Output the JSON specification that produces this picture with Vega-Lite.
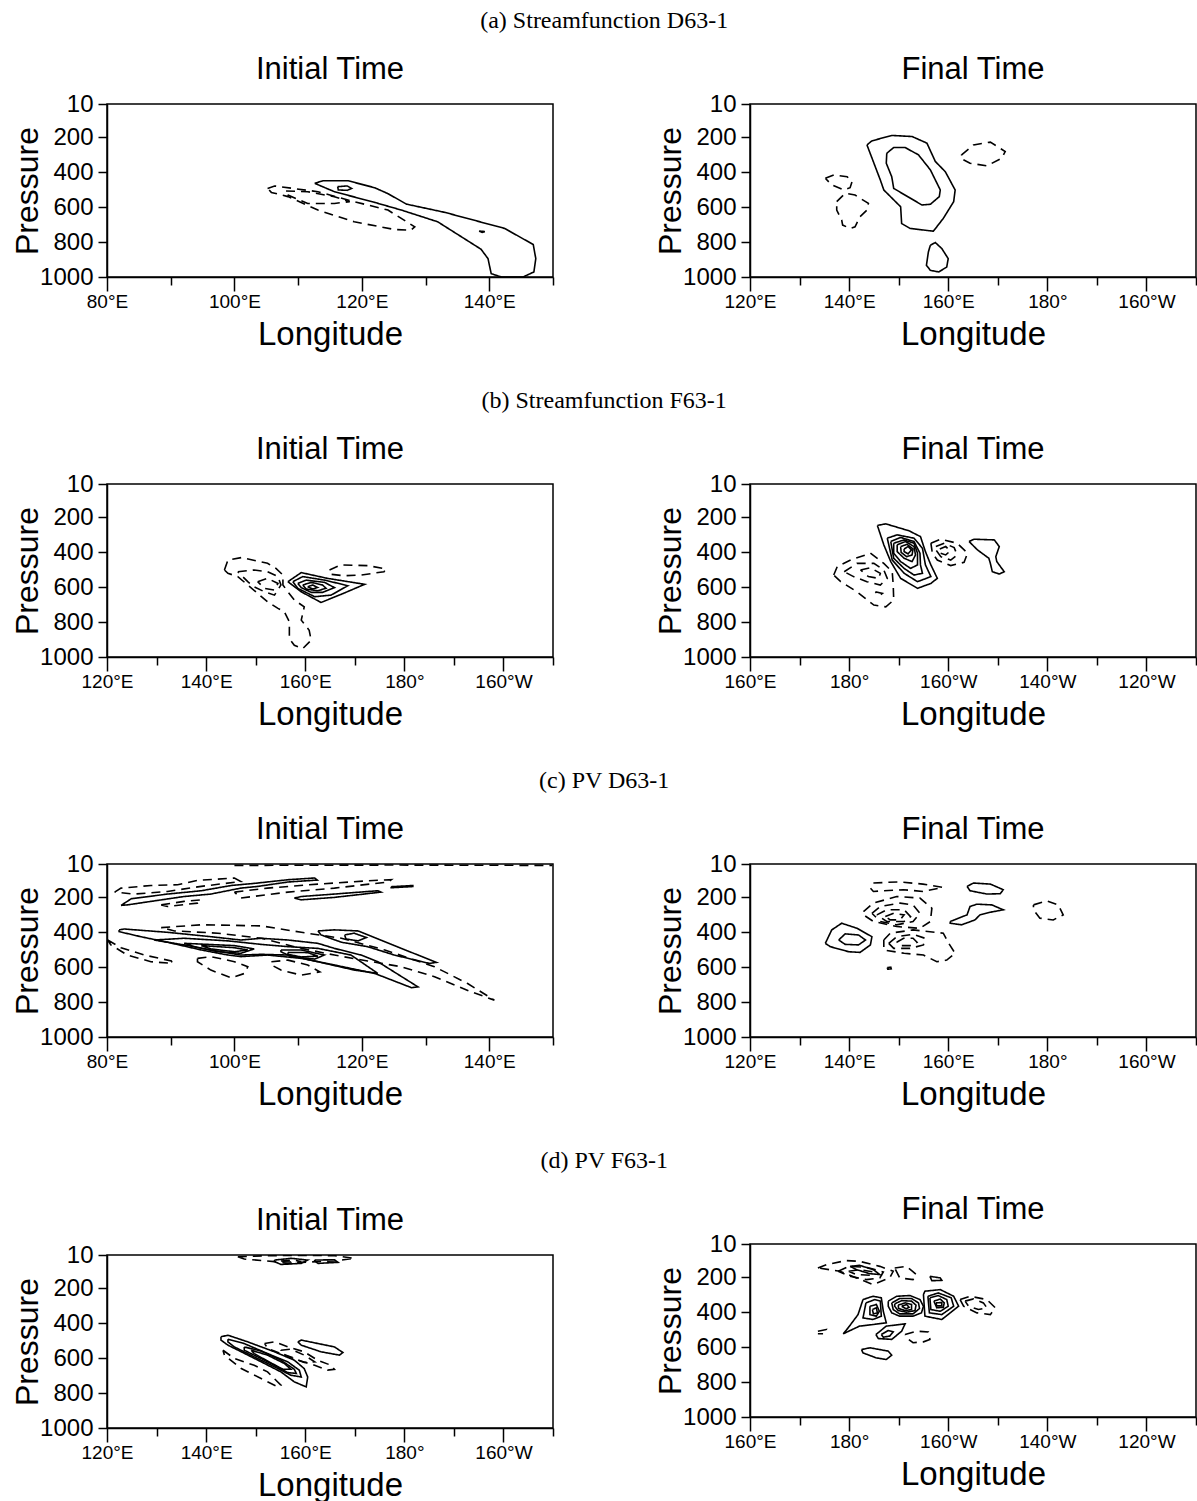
{
"$schema": "https://vega.github.io/schema/vega-lite/v6.json",
"background": "white",
"padding": {"left": 10, "top": 9, "right": 2, "bottom": 0},
"spacing": 37,
"datasets": {
"a1": [
{"id":1,"sign":"pos","lon":112.6,"p":464},{"id":1,"sign":"pos","lon":113.9,"p":449},{"id":1,"sign":"pos","lon":117.8,"p":449},{"id":1,"sign":"pos","lon":122.0,"p":489},{"id":1,"sign":"pos","lon":124.1,"p":523},{"id":1,"sign":"pos","lon":127.0,"p":583},{"id":1,"sign":"pos","lon":133.0,"p":630},{"id":1,"sign":"pos","lon":142.4,"p":722},{"id":1,"sign":"pos","lon":146.9,"p":814},{"id":1,"sign":"pos","lon":147.3,"p":895},{"id":1,"sign":"pos","lon":147.0,"p":971},{"id":1,"sign":"pos","lon":145.3,"p":1000},{"id":1,"sign":"pos","lon":141.9,"p":1000},{"id":1,"sign":"pos","lon":140.3,"p":981},{"id":1,"sign":"pos","lon":139.8,"p":895},{"id":1,"sign":"pos","lon":138.7,"p":841},{"id":1,"sign":"pos","lon":131.9,"p":684},{"id":1,"sign":"pos","lon":126.2,"p":617},{"id":1,"sign":"pos","lon":122.0,"p":573},{"id":1,"sign":"pos","lon":115.7,"p":512},{"id":1,"sign":"pos","lon":112.6,"p":464},
{"id":2,"sign":"pos","lon":116.2,"p":483},{"id":2,"sign":"pos","lon":117.7,"p":479},{"id":2,"sign":"pos","lon":118.4,"p":493},{"id":2,"sign":"pos","lon":117.7,"p":504},{"id":2,"sign":"pos","lon":116.3,"p":502},{"id":2,"sign":"pos","lon":116.2,"p":483},
{"id":3,"sign":"pos","lon":138.4,"p":737},{"id":3,"sign":"pos","lon":139.3,"p":740},{"id":3,"sign":"pos","lon":138.9,"p":745},{"id":3,"sign":"pos","lon":138.4,"p":737},
{"id":4,"sign":"neg","lon":105.2,"p":493},{"id":4,"sign":"neg","lon":106.3,"p":479},{"id":4,"sign":"neg","lon":113.1,"p":512},{"id":4,"sign":"neg","lon":118.8,"p":569},{"id":4,"sign":"neg","lon":124.1,"p":617},{"id":4,"sign":"neg","lon":128.3,"p":713},{"id":4,"sign":"neg","lon":127.7,"p":732},{"id":4,"sign":"neg","lon":125.1,"p":728},{"id":4,"sign":"neg","lon":118.8,"p":684},{"id":4,"sign":"neg","lon":113.1,"p":617},{"id":4,"sign":"neg","lon":108.4,"p":540},{"id":4,"sign":"neg","lon":105.8,"p":516},{"id":4,"sign":"neg","lon":105.2,"p":493},
{"id":5,"sign":"neg","lon":108.1,"p":508},{"id":5,"sign":"neg","lon":111.5,"p":512},{"id":5,"sign":"neg","lon":115.7,"p":541},{"id":5,"sign":"neg","lon":118.1,"p":569},{"id":5,"sign":"neg","lon":115.7,"p":579},{"id":5,"sign":"neg","lon":111.5,"p":579},{"id":5,"sign":"neg","lon":108.4,"p":531},{"id":5,"sign":"neg","lon":108.1,"p":508}
],
"a2": [
{"id":1,"sign":"pos","lon":143.6,"p":244},{"id":1,"sign":"pos","lon":144.6,"p":221},{"id":1,"sign":"pos","lon":148.6,"p":190},{"id":1,"sign":"pos","lon":152.7,"p":196},{"id":1,"sign":"pos","lon":155.7,"p":234},{"id":1,"sign":"pos","lon":157.4,"p":339},{"id":1,"sign":"pos","lon":159.4,"p":397},{"id":1,"sign":"pos","lon":161.4,"p":502},{"id":1,"sign":"pos","lon":161.1,"p":569},{"id":1,"sign":"pos","lon":159.0,"p":665},{"id":1,"sign":"pos","lon":157.0,"p":738},{"id":1,"sign":"pos","lon":152.3,"p":722},{"id":1,"sign":"pos","lon":150.6,"p":694},{"id":1,"sign":"pos","lon":150.4,"p":598},{"id":1,"sign":"pos","lon":147.0,"p":502},{"id":1,"sign":"pos","lon":146.3,"p":445},{"id":1,"sign":"pos","lon":143.6,"p":244},
{"id":2,"sign":"pos","lon":147.6,"p":292},{"id":2,"sign":"pos","lon":149.0,"p":259},{"id":2,"sign":"pos","lon":151.3,"p":259},{"id":2,"sign":"pos","lon":154.0,"p":301},{"id":2,"sign":"pos","lon":156.4,"p":387},{"id":2,"sign":"pos","lon":158.4,"p":502},{"id":2,"sign":"pos","lon":158.2,"p":540},{"id":2,"sign":"pos","lon":156.4,"p":584},{"id":2,"sign":"pos","lon":154.7,"p":588},{"id":2,"sign":"pos","lon":149.0,"p":493},{"id":2,"sign":"pos","lon":148.6,"p":426},{"id":2,"sign":"pos","lon":147.5,"p":349},{"id":2,"sign":"pos","lon":147.6,"p":292},
{"id":3,"sign":"pos","lon":156.4,"p":818},{"id":3,"sign":"pos","lon":157.4,"p":803},{"id":3,"sign":"pos","lon":158.7,"p":837},{"id":3,"sign":"pos","lon":160.0,"p":895},{"id":3,"sign":"pos","lon":159.7,"p":943},{"id":3,"sign":"pos","lon":158.1,"p":971},{"id":3,"sign":"pos","lon":156.4,"p":962},{"id":3,"sign":"pos","lon":155.6,"p":933},{"id":3,"sign":"pos","lon":156.0,"p":856},{"id":3,"sign":"pos","lon":156.4,"p":818},
{"id":4,"sign":"neg","lon":162.7,"p":301},{"id":4,"sign":"neg","lon":165.1,"p":244},{"id":4,"sign":"neg","lon":168.5,"p":228},{"id":4,"sign":"neg","lon":171.5,"p":282},{"id":4,"sign":"neg","lon":170.8,"p":320},{"id":4,"sign":"neg","lon":167.8,"p":364},{"id":4,"sign":"neg","lon":164.4,"p":349},{"id":4,"sign":"neg","lon":162.5,"p":320},{"id":4,"sign":"neg","lon":162.7,"p":301},
{"id":5,"sign":"neg","lon":135.2,"p":435},{"id":5,"sign":"neg","lon":136.9,"p":416},{"id":5,"sign":"neg","lon":139.6,"p":426},{"id":5,"sign":"neg","lon":140.6,"p":454},{"id":5,"sign":"neg","lon":140.2,"p":489},{"id":5,"sign":"neg","lon":138.9,"p":502},{"id":5,"sign":"neg","lon":136.5,"p":473},{"id":5,"sign":"neg","lon":135.2,"p":435},
{"id":6,"sign":"neg","lon":137.5,"p":569},{"id":6,"sign":"neg","lon":139.2,"p":521},{"id":6,"sign":"neg","lon":141.2,"p":531},{"id":6,"sign":"neg","lon":143.9,"p":579},{"id":6,"sign":"neg","lon":143.6,"p":617},{"id":6,"sign":"neg","lon":142.2,"p":655},{"id":6,"sign":"neg","lon":141.2,"p":713},{"id":6,"sign":"neg","lon":140.2,"p":722},{"id":6,"sign":"neg","lon":138.7,"p":703},{"id":6,"sign":"neg","lon":138.5,"p":674},{"id":6,"sign":"neg","lon":137.5,"p":617},{"id":6,"sign":"neg","lon":137.5,"p":569}
],
"b1": [
{"id":1,"sign":"pos","lon":156.5,"p":569},{"id":1,"sign":"pos","lon":159.2,"p":517},{"id":1,"sign":"pos","lon":164.5,"p":550},{"id":1,"sign":"pos","lon":172.0,"p":584},{"id":1,"sign":"pos","lon":167.2,"p":642},{"id":1,"sign":"pos","lon":163.2,"p":688},{"id":1,"sign":"pos","lon":159.2,"p":627},{"id":1,"sign":"pos","lon":156.5,"p":569},
{"id":2,"sign":"pos","lon":157.5,"p":569},{"id":2,"sign":"pos","lon":159.5,"p":540},{"id":2,"sign":"pos","lon":163.9,"p":560},{"id":2,"sign":"pos","lon":168.6,"p":592},{"id":2,"sign":"pos","lon":165.2,"p":646},{"id":2,"sign":"pos","lon":161.9,"p":655},{"id":2,"sign":"pos","lon":158.5,"p":607},{"id":2,"sign":"pos","lon":157.5,"p":569},
{"id":3,"sign":"pos","lon":158.5,"p":579},{"id":3,"sign":"pos","lon":160.2,"p":560},{"id":3,"sign":"pos","lon":163.9,"p":573},{"id":3,"sign":"pos","lon":165.9,"p":603},{"id":3,"sign":"pos","lon":163.5,"p":630},{"id":3,"sign":"pos","lon":161.2,"p":630},{"id":3,"sign":"pos","lon":159.2,"p":603},{"id":3,"sign":"pos","lon":158.5,"p":579},
{"id":4,"sign":"pos","lon":159.5,"p":588},{"id":4,"sign":"pos","lon":161.2,"p":573},{"id":4,"sign":"pos","lon":163.5,"p":588},{"id":4,"sign":"pos","lon":164.2,"p":607},{"id":4,"sign":"pos","lon":162.5,"p":621},{"id":4,"sign":"pos","lon":160.2,"p":611},{"id":4,"sign":"pos","lon":159.5,"p":588},
{"id":5,"sign":"pos","lon":160.5,"p":598},{"id":5,"sign":"pos","lon":161.5,"p":588},{"id":5,"sign":"pos","lon":162.5,"p":602},{"id":5,"sign":"pos","lon":161.5,"p":611},{"id":5,"sign":"pos","lon":160.5,"p":598},
{"id":6,"sign":"neg","lon":143.7,"p":502},{"id":6,"sign":"neg","lon":144.4,"p":445},{"id":6,"sign":"neg","lon":147.1,"p":431},{"id":6,"sign":"neg","lon":152.4,"p":464},{"id":6,"sign":"neg","lon":154.1,"p":493},{"id":6,"sign":"neg","lon":155.5,"p":531},{"id":6,"sign":"neg","lon":155.5,"p":588},{"id":6,"sign":"neg","lon":156.5,"p":627},{"id":6,"sign":"neg","lon":157.8,"p":674},{"id":6,"sign":"neg","lon":159.8,"p":713},{"id":6,"sign":"neg","lon":159.2,"p":789},{"id":6,"sign":"neg","lon":160.8,"p":847},{"id":6,"sign":"neg","lon":161.2,"p":904},{"id":6,"sign":"neg","lon":159.5,"p":952},{"id":6,"sign":"neg","lon":157.8,"p":933},{"id":6,"sign":"neg","lon":156.8,"p":895},{"id":6,"sign":"neg","lon":156.8,"p":799},{"id":6,"sign":"neg","lon":155.8,"p":742},{"id":6,"sign":"neg","lon":154.5,"p":722},{"id":6,"sign":"neg","lon":152.4,"p":684},{"id":6,"sign":"neg","lon":150.4,"p":636},{"id":6,"sign":"neg","lon":148.4,"p":588},{"id":6,"sign":"neg","lon":146.4,"p":540},{"id":6,"sign":"neg","lon":144.4,"p":521},{"id":6,"sign":"neg","lon":143.7,"p":502},
{"id":7,"sign":"neg","lon":146.4,"p":512},{"id":7,"sign":"neg","lon":149.7,"p":502},{"id":7,"sign":"neg","lon":152.4,"p":512},{"id":7,"sign":"neg","lon":154.5,"p":540},{"id":7,"sign":"neg","lon":155.1,"p":588},{"id":7,"sign":"neg","lon":153.8,"p":646},{"id":7,"sign":"neg","lon":151.8,"p":627},{"id":7,"sign":"neg","lon":149.7,"p":598},{"id":7,"sign":"neg","lon":148.4,"p":569},{"id":7,"sign":"neg","lon":146.4,"p":512},
{"id":8,"sign":"neg","lon":150.4,"p":569},{"id":8,"sign":"neg","lon":152.4,"p":550},{"id":8,"sign":"neg","lon":154.5,"p":579},{"id":8,"sign":"neg","lon":153.8,"p":617},{"id":8,"sign":"neg","lon":151.8,"p":607},{"id":8,"sign":"neg","lon":150.4,"p":569},
{"id":9,"sign":"neg","lon":164.9,"p":502},{"id":9,"sign":"neg","lon":167.2,"p":473},{"id":9,"sign":"neg","lon":172.6,"p":477},{"id":9,"sign":"neg","lon":176.3,"p":496},{"id":9,"sign":"neg","lon":175.9,"p":512},{"id":9,"sign":"neg","lon":171.3,"p":531},{"id":9,"sign":"neg","lon":167.9,"p":535},{"id":9,"sign":"neg","lon":165.2,"p":527},{"id":9,"sign":"neg","lon":164.9,"p":502}
],
"b2": [
{"id":1,"sign":"pos","lon":185.7,"p":247},{"id":1,"sign":"pos","lon":187.4,"p":238},{"id":1,"sign":"pos","lon":192.1,"p":278},{"id":1,"sign":"pos","lon":194.4,"p":311},{"id":1,"sign":"pos","lon":195.4,"p":397},{"id":1,"sign":"pos","lon":196.5,"p":473},{"id":1,"sign":"pos","lon":197.8,"p":550},{"id":1,"sign":"pos","lon":196.5,"p":579},{"id":1,"sign":"pos","lon":193.8,"p":607},{"id":1,"sign":"pos","lon":190.4,"p":550},{"id":1,"sign":"pos","lon":188.4,"p":454},{"id":1,"sign":"pos","lon":187.0,"p":358},{"id":1,"sign":"pos","lon":185.7,"p":247},
{"id":2,"sign":"pos","lon":187.7,"p":320},{"id":2,"sign":"pos","lon":189.7,"p":301},{"id":2,"sign":"pos","lon":193.1,"p":320},{"id":2,"sign":"pos","lon":194.8,"p":378},{"id":2,"sign":"pos","lon":195.4,"p":473},{"id":2,"sign":"pos","lon":196.5,"p":540},{"id":2,"sign":"pos","lon":193.8,"p":569},{"id":2,"sign":"pos","lon":191.1,"p":521},{"id":2,"sign":"pos","lon":188.7,"p":445},{"id":2,"sign":"pos","lon":187.7,"p":320},
{"id":3,"sign":"pos","lon":188.4,"p":339},{"id":3,"sign":"pos","lon":190.4,"p":316},{"id":3,"sign":"pos","lon":193.1,"p":339},{"id":3,"sign":"pos","lon":194.3,"p":406},{"id":3,"sign":"pos","lon":194.4,"p":473},{"id":3,"sign":"pos","lon":194.8,"p":521},{"id":3,"sign":"pos","lon":193.1,"p":531},{"id":3,"sign":"pos","lon":191.1,"p":493},{"id":3,"sign":"pos","lon":189.0,"p":435},{"id":3,"sign":"pos","lon":188.4,"p":339},
{"id":4,"sign":"pos","lon":189.0,"p":349},{"id":4,"sign":"pos","lon":191.1,"p":330},{"id":4,"sign":"pos","lon":193.1,"p":349},{"id":4,"sign":"pos","lon":193.8,"p":406},{"id":4,"sign":"pos","lon":193.8,"p":473},{"id":4,"sign":"pos","lon":192.4,"p":493},{"id":4,"sign":"pos","lon":190.4,"p":454},{"id":4,"sign":"pos","lon":189.0,"p":406},{"id":4,"sign":"pos","lon":189.0,"p":349},
{"id":5,"sign":"pos","lon":189.7,"p":358},{"id":5,"sign":"pos","lon":191.4,"p":339},{"id":5,"sign":"pos","lon":193.1,"p":368},{"id":5,"sign":"pos","lon":193.4,"p":416},{"id":5,"sign":"pos","lon":192.7,"p":454},{"id":5,"sign":"pos","lon":191.1,"p":435},{"id":5,"sign":"pos","lon":189.7,"p":397},{"id":5,"sign":"pos","lon":189.7,"p":358},
{"id":6,"sign":"pos","lon":190.4,"p":368},{"id":6,"sign":"pos","lon":191.7,"p":355},{"id":6,"sign":"pos","lon":192.9,"p":382},{"id":6,"sign":"pos","lon":192.7,"p":416},{"id":6,"sign":"pos","lon":191.6,"p":426},{"id":6,"sign":"pos","lon":190.5,"p":401},{"id":6,"sign":"pos","lon":190.4,"p":368},
{"id":7,"sign":"pos","lon":191.1,"p":382},{"id":7,"sign":"pos","lon":191.9,"p":368},{"id":7,"sign":"pos","lon":192.6,"p":387},{"id":7,"sign":"pos","lon":191.9,"p":410},{"id":7,"sign":"pos","lon":191.1,"p":397},{"id":7,"sign":"pos","lon":191.1,"p":382},
{"id":8,"sign":"pos","lon":204.2,"p":339},{"id":8,"sign":"pos","lon":205.2,"p":326},{"id":8,"sign":"pos","lon":209.3,"p":330},{"id":8,"sign":"pos","lon":210.3,"p":368},{"id":8,"sign":"pos","lon":209.6,"p":426},{"id":8,"sign":"pos","lon":209.8,"p":454},{"id":8,"sign":"pos","lon":211.3,"p":512},{"id":8,"sign":"pos","lon":210.3,"p":525},{"id":8,"sign":"pos","lon":208.9,"p":512},{"id":8,"sign":"pos","lon":208.5,"p":464},{"id":8,"sign":"pos","lon":208.2,"p":435},{"id":8,"sign":"pos","lon":205.9,"p":387},{"id":8,"sign":"pos","lon":204.2,"p":339},
{"id":9,"sign":"neg","lon":196.5,"p":349},{"id":9,"sign":"neg","lon":198.5,"p":326},{"id":9,"sign":"neg","lon":201.8,"p":349},{"id":9,"sign":"neg","lon":203.9,"p":406},{"id":9,"sign":"neg","lon":203.2,"p":458},{"id":9,"sign":"neg","lon":200.5,"p":477},{"id":9,"sign":"neg","lon":197.8,"p":445},{"id":9,"sign":"neg","lon":196.8,"p":406},{"id":9,"sign":"neg","lon":196.5,"p":349},
{"id":10,"sign":"neg","lon":197.5,"p":368},{"id":10,"sign":"neg","lon":199.2,"p":349},{"id":10,"sign":"neg","lon":201.2,"p":374},{"id":10,"sign":"neg","lon":201.8,"p":416},{"id":10,"sign":"neg","lon":200.5,"p":445},{"id":10,"sign":"neg","lon":198.5,"p":426},{"id":10,"sign":"neg","lon":197.5,"p":387},{"id":10,"sign":"neg","lon":197.5,"p":368},
{"id":11,"sign":"neg","lon":198.3,"p":382},{"id":11,"sign":"neg","lon":199.5,"p":368},{"id":11,"sign":"neg","lon":200.4,"p":393},{"id":11,"sign":"neg","lon":199.5,"p":416},{"id":11,"sign":"neg","lon":198.4,"p":406},{"id":11,"sign":"neg","lon":198.3,"p":382},
{"id":12,"sign":"neg","lon":176.9,"p":531},{"id":12,"sign":"neg","lon":177.6,"p":483},{"id":12,"sign":"neg","lon":180.3,"p":445},{"id":12,"sign":"neg","lon":184.3,"p":406},{"id":12,"sign":"neg","lon":187.0,"p":464},{"id":12,"sign":"neg","lon":188.7,"p":512},{"id":12,"sign":"neg","lon":188.9,"p":588},{"id":12,"sign":"neg","lon":189.0,"p":674},{"id":12,"sign":"neg","lon":187.4,"p":713},{"id":12,"sign":"neg","lon":185.0,"p":703},{"id":12,"sign":"neg","lon":181.6,"p":627},{"id":12,"sign":"neg","lon":178.3,"p":569},{"id":12,"sign":"neg","lon":176.9,"p":531},
{"id":13,"sign":"neg","lon":179.0,"p":512},{"id":13,"sign":"neg","lon":181.6,"p":464},{"id":13,"sign":"neg","lon":185.0,"p":464},{"id":13,"sign":"neg","lon":187.0,"p":502},{"id":13,"sign":"neg","lon":187.7,"p":550},{"id":13,"sign":"neg","lon":186.3,"p":588},{"id":13,"sign":"neg","lon":183.6,"p":569},{"id":13,"sign":"neg","lon":180.9,"p":540},{"id":13,"sign":"neg","lon":179.0,"p":512},
{"id":14,"sign":"neg","lon":182.3,"p":502},{"id":14,"sign":"neg","lon":184.3,"p":489},{"id":14,"sign":"neg","lon":186.3,"p":521},{"id":14,"sign":"neg","lon":186.0,"p":550},{"id":14,"sign":"neg","lon":183.9,"p":540},{"id":14,"sign":"neg","lon":182.3,"p":502},
{"id":15,"sign":"neg","lon":185.3,"p":627},{"id":15,"sign":"neg","lon":186.7,"p":636},{"id":15,"sign":"neg","lon":186.0,"p":650},{"id":15,"sign":"neg","lon":185.3,"p":627}
],
"c1": [
{"id":1,"sign":"neg","lon":100.0,"p":18},{"id":1,"sign":"neg","lon":125.0,"p":16},{"id":1,"sign":"neg","lon":149.9,"p":18},
{"id":2,"sign":"pos","lon":82.2,"p":247},{"id":2,"sign":"pos","lon":83.8,"p":209},{"id":2,"sign":"pos","lon":89.5,"p":182},{"id":2,"sign":"pos","lon":94.8,"p":163},{"id":2,"sign":"pos","lon":99.5,"p":133},{"id":2,"sign":"pos","lon":103.1,"p":121},{"id":2,"sign":"pos","lon":108.4,"p":100},{"id":2,"sign":"pos","lon":112.6,"p":90},{"id":2,"sign":"pos","lon":113.0,"p":102},{"id":2,"sign":"pos","lon":108.4,"p":113},{"id":2,"sign":"pos","lon":103.7,"p":138},{"id":2,"sign":"pos","lon":101.0,"p":148},{"id":2,"sign":"pos","lon":96.3,"p":182},{"id":2,"sign":"pos","lon":92.1,"p":196},{"id":2,"sign":"pos","lon":86.9,"p":224},{"id":2,"sign":"pos","lon":83.2,"p":244},{"id":2,"sign":"pos","lon":82.2,"p":247},
{"id":3,"sign":"pos","lon":109.4,"p":205},{"id":3,"sign":"pos","lon":110.5,"p":196},{"id":3,"sign":"pos","lon":115.7,"p":182},{"id":3,"sign":"pos","lon":122.5,"p":163},{"id":3,"sign":"pos","lon":123.0,"p":171},{"id":3,"sign":"pos","lon":115.7,"p":201},{"id":3,"sign":"pos","lon":110.5,"p":215},{"id":3,"sign":"pos","lon":109.4,"p":205},
{"id":4,"sign":"pos","lon":124.6,"p":140},{"id":4,"sign":"pos","lon":128.0,"p":133},{"id":4,"sign":"pos","lon":128.0,"p":139},{"id":4,"sign":"pos","lon":124.6,"p":146},{"id":4,"sign":"pos","lon":124.6,"p":140},
{"id":5,"sign":"neg","lon":81.2,"p":171},{"id":5,"sign":"neg","lon":82.2,"p":148},{"id":5,"sign":"neg","lon":86.9,"p":133},{"id":5,"sign":"neg","lon":91.1,"p":129},{"id":5,"sign":"neg","lon":94.2,"p":104},{"id":5,"sign":"neg","lon":100.0,"p":90},{"id":5,"sign":"neg","lon":101.0,"p":110},{"id":5,"sign":"neg","lon":94.8,"p":138},{"id":5,"sign":"neg","lon":89.5,"p":167},{"id":5,"sign":"neg","lon":84.3,"p":182},{"id":5,"sign":"neg","lon":81.2,"p":171},
{"id":6,"sign":"neg","lon":100.0,"p":171},{"id":6,"sign":"neg","lon":105.2,"p":148},{"id":6,"sign":"neg","lon":113.1,"p":125},{"id":6,"sign":"neg","lon":120.9,"p":106},{"id":6,"sign":"neg","lon":124.6,"p":100},{"id":6,"sign":"neg","lon":124.1,"p":113},{"id":6,"sign":"neg","lon":115.7,"p":148},{"id":6,"sign":"neg","lon":108.4,"p":171},{"id":6,"sign":"neg","lon":101.0,"p":205},{"id":6,"sign":"neg","lon":100.0,"p":171},
{"id":7,"sign":"neg","lon":88.5,"p":244},{"id":7,"sign":"neg","lon":92.1,"p":224},{"id":7,"sign":"neg","lon":94.8,"p":215},{"id":7,"sign":"neg","lon":94.2,"p":234},{"id":7,"sign":"neg","lon":89.5,"p":253},{"id":7,"sign":"neg","lon":88.5,"p":244},
{"id":8,"sign":"pos","lon":81.9,"p":387},{"id":8,"sign":"pos","lon":82.7,"p":382},{"id":8,"sign":"pos","lon":89.5,"p":401},{"id":8,"sign":"pos","lon":96.3,"p":426},{"id":8,"sign":"pos","lon":101.0,"p":445},{"id":8,"sign":"pos","lon":104.2,"p":435},{"id":8,"sign":"pos","lon":108.4,"p":445},{"id":8,"sign":"pos","lon":113.1,"p":464},{"id":8,"sign":"pos","lon":115.7,"p":493},{"id":8,"sign":"pos","lon":119.9,"p":531},{"id":8,"sign":"pos","lon":122.5,"p":569},{"id":8,"sign":"pos","lon":128.8,"p":713},{"id":8,"sign":"pos","lon":127.8,"p":718},{"id":8,"sign":"pos","lon":122.0,"p":636},{"id":8,"sign":"pos","lon":115.7,"p":588},{"id":8,"sign":"pos","lon":110.5,"p":550},{"id":8,"sign":"pos","lon":105.2,"p":531},{"id":8,"sign":"pos","lon":101.0,"p":540},{"id":8,"sign":"pos","lon":99.0,"p":531},{"id":8,"sign":"pos","lon":94.8,"p":502},{"id":8,"sign":"pos","lon":89.5,"p":458},{"id":8,"sign":"pos","lon":85.3,"p":426},{"id":8,"sign":"pos","lon":81.9,"p":397},{"id":8,"sign":"pos","lon":81.9,"p":387},
{"id":9,"sign":"pos","lon":87.4,"p":445},{"id":9,"sign":"pos","lon":92.1,"p":435},{"id":9,"sign":"pos","lon":99.0,"p":450},{"id":9,"sign":"pos","lon":104.2,"p":470},{"id":9,"sign":"pos","lon":108.4,"p":483},{"id":9,"sign":"pos","lon":113.1,"p":493},{"id":9,"sign":"pos","lon":118.3,"p":531},{"id":9,"sign":"pos","lon":122.5,"p":636},{"id":9,"sign":"pos","lon":118.8,"p":617},{"id":9,"sign":"pos","lon":113.1,"p":569},{"id":9,"sign":"pos","lon":108.4,"p":531},{"id":9,"sign":"pos","lon":104.2,"p":527},{"id":9,"sign":"pos","lon":101.0,"p":531},{"id":9,"sign":"pos","lon":96.3,"p":502},{"id":9,"sign":"pos","lon":92.1,"p":473},{"id":9,"sign":"pos","lon":87.4,"p":445},
{"id":10,"sign":"pos","lon":92.1,"p":464},{"id":10,"sign":"pos","lon":95.8,"p":470},{"id":10,"sign":"pos","lon":100.0,"p":477},{"id":10,"sign":"pos","lon":103.1,"p":496},{"id":10,"sign":"pos","lon":101.0,"p":521},{"id":10,"sign":"pos","lon":97.4,"p":512},{"id":10,"sign":"pos","lon":93.7,"p":483},{"id":10,"sign":"pos","lon":92.1,"p":464},
{"id":11,"sign":"pos","lon":94.8,"p":477},{"id":11,"sign":"pos","lon":100.0,"p":489},{"id":11,"sign":"pos","lon":102.1,"p":502},{"id":11,"sign":"pos","lon":100.0,"p":512},{"id":11,"sign":"pos","lon":96.3,"p":496},{"id":11,"sign":"pos","lon":94.8,"p":477},
{"id":12,"sign":"pos","lon":107.3,"p":502},{"id":12,"sign":"pos","lon":110.5,"p":502},{"id":12,"sign":"pos","lon":114.1,"p":531},{"id":12,"sign":"pos","lon":112.6,"p":554},{"id":12,"sign":"pos","lon":108.9,"p":540},{"id":12,"sign":"pos","lon":107.3,"p":512},{"id":12,"sign":"pos","lon":107.3,"p":502},
{"id":13,"sign":"pos","lon":108.4,"p":516},{"id":13,"sign":"pos","lon":111.5,"p":517},{"id":13,"sign":"pos","lon":113.1,"p":537},{"id":13,"sign":"pos","lon":110.5,"p":542},{"id":13,"sign":"pos","lon":108.4,"p":527},{"id":13,"sign":"pos","lon":108.4,"p":516},
{"id":14,"sign":"pos","lon":113.1,"p":393},{"id":14,"sign":"pos","lon":115.7,"p":387},{"id":14,"sign":"pos","lon":119.4,"p":393},{"id":14,"sign":"pos","lon":126.2,"p":493},{"id":14,"sign":"pos","lon":131.7,"p":573},{"id":14,"sign":"pos","lon":130.6,"p":579},{"id":14,"sign":"pos","lon":125.1,"p":531},{"id":14,"sign":"pos","lon":120.9,"p":483},{"id":14,"sign":"pos","lon":116.8,"p":458},{"id":14,"sign":"pos","lon":113.6,"p":416},{"id":14,"sign":"pos","lon":113.1,"p":393},
{"id":15,"sign":"pos","lon":117.3,"p":416},{"id":15,"sign":"pos","lon":118.8,"p":406},{"id":15,"sign":"pos","lon":120.7,"p":431},{"id":15,"sign":"pos","lon":119.4,"p":450},{"id":15,"sign":"pos","lon":117.5,"p":439},{"id":15,"sign":"pos","lon":117.3,"p":416},
{"id":16,"sign":"neg","lon":88.5,"p":374},{"id":16,"sign":"neg","lon":94.8,"p":358},{"id":16,"sign":"neg","lon":104.2,"p":364},{"id":16,"sign":"neg","lon":110.5,"p":401},{"id":16,"sign":"neg","lon":116.8,"p":435},{"id":16,"sign":"neg","lon":123.6,"p":502},{"id":16,"sign":"neg","lon":131.4,"p":598},{"id":16,"sign":"neg","lon":136.6,"p":694},{"id":16,"sign":"neg","lon":140.8,"p":789},{"id":16,"sign":"neg","lon":137.2,"p":742},{"id":16,"sign":"neg","lon":131.4,"p":655},{"id":16,"sign":"neg","lon":126.2,"p":598},{"id":16,"sign":"neg","lon":120.9,"p":565},{"id":16,"sign":"neg","lon":115.7,"p":531},{"id":16,"sign":"neg","lon":110.5,"p":493},{"id":16,"sign":"neg","lon":104.2,"p":435},{"id":16,"sign":"neg","lon":97.4,"p":406},{"id":16,"sign":"neg","lon":90.6,"p":393},{"id":16,"sign":"neg","lon":88.5,"p":374},
{"id":17,"sign":"neg","lon":80.1,"p":445},{"id":17,"sign":"neg","lon":82.2,"p":489},{"id":17,"sign":"neg","lon":85.9,"p":531},{"id":17,"sign":"neg","lon":90.1,"p":565},{"id":17,"sign":"neg","lon":90.3,"p":579},{"id":17,"sign":"neg","lon":86.9,"p":569},{"id":17,"sign":"neg","lon":83.2,"p":531},{"id":17,"sign":"neg","lon":80.6,"p":473},{"id":17,"sign":"neg","lon":80.1,"p":445},
{"id":18,"sign":"neg","lon":94.2,"p":550},{"id":18,"sign":"neg","lon":96.3,"p":540},{"id":18,"sign":"neg","lon":100.0,"p":569},{"id":18,"sign":"neg","lon":102.1,"p":598},{"id":18,"sign":"neg","lon":101.6,"p":636},{"id":18,"sign":"neg","lon":99.5,"p":661},{"id":18,"sign":"neg","lon":96.3,"p":617},{"id":18,"sign":"neg","lon":94.2,"p":569},{"id":18,"sign":"neg","lon":94.2,"p":550},
{"id":19,"sign":"neg","lon":105.8,"p":569},{"id":19,"sign":"neg","lon":108.4,"p":560},{"id":19,"sign":"neg","lon":111.5,"p":588},{"id":19,"sign":"neg","lon":113.4,"p":627},{"id":19,"sign":"neg","lon":110.5,"p":646},{"id":19,"sign":"neg","lon":107.3,"p":617},{"id":19,"sign":"neg","lon":105.8,"p":588},{"id":19,"sign":"neg","lon":105.8,"p":569}
],
"c2": [
{"id":1,"sign":"pos","lon":135.2,"p":464},{"id":1,"sign":"pos","lon":136.5,"p":387},{"id":1,"sign":"pos","lon":138.5,"p":349},{"id":1,"sign":"pos","lon":141.6,"p":378},{"id":1,"sign":"pos","lon":144.6,"p":426},{"id":1,"sign":"pos","lon":144.3,"p":473},{"id":1,"sign":"pos","lon":142.2,"p":516},{"id":1,"sign":"pos","lon":139.9,"p":512},{"id":1,"sign":"pos","lon":136.2,"p":483},{"id":1,"sign":"pos","lon":135.2,"p":464},
{"id":2,"sign":"pos","lon":137.9,"p":445},{"id":2,"sign":"pos","lon":139.2,"p":410},{"id":2,"sign":"pos","lon":141.9,"p":416},{"id":2,"sign":"pos","lon":143.3,"p":445},{"id":2,"sign":"pos","lon":141.9,"p":473},{"id":2,"sign":"pos","lon":139.2,"p":470},{"id":2,"sign":"pos","lon":137.9,"p":445},
{"id":3,"sign":"pos","lon":147.7,"p":603},{"id":3,"sign":"pos","lon":148.4,"p":600},{"id":3,"sign":"pos","lon":148.5,"p":610},{"id":3,"sign":"pos","lon":147.8,"p":612},{"id":3,"sign":"pos","lon":147.7,"p":603},
{"id":4,"sign":"pos","lon":163.8,"p":138},{"id":4,"sign":"pos","lon":165.1,"p":119},{"id":4,"sign":"pos","lon":168.5,"p":125},{"id":4,"sign":"pos","lon":171.1,"p":157},{"id":4,"sign":"pos","lon":170.5,"p":180},{"id":4,"sign":"pos","lon":167.8,"p":182},{"id":4,"sign":"pos","lon":164.4,"p":163},{"id":4,"sign":"pos","lon":163.8,"p":138},
{"id":5,"sign":"pos","lon":160.4,"p":339},{"id":5,"sign":"pos","lon":163.8,"p":301},{"id":5,"sign":"pos","lon":164.4,"p":253},{"id":5,"sign":"pos","lon":165.8,"p":240},{"id":5,"sign":"pos","lon":168.8,"p":244},{"id":5,"sign":"pos","lon":171.1,"p":272},{"id":5,"sign":"pos","lon":168.5,"p":286},{"id":5,"sign":"pos","lon":166.4,"p":301},{"id":5,"sign":"pos","lon":165.4,"p":330},{"id":5,"sign":"pos","lon":162.7,"p":358},{"id":5,"sign":"pos","lon":160.4,"p":349},{"id":5,"sign":"pos","lon":160.4,"p":339},
{"id":6,"sign":"neg","lon":177.2,"p":244},{"id":6,"sign":"neg","lon":179.9,"p":221},{"id":6,"sign":"neg","lon":182.2,"p":244},{"id":6,"sign":"neg","lon":183.2,"p":301},{"id":6,"sign":"neg","lon":181.2,"p":330},{"id":6,"sign":"neg","lon":178.5,"p":320},{"id":6,"sign":"neg","lon":177.2,"p":272},{"id":6,"sign":"neg","lon":177.2,"p":244},
{"id":7,"sign":"neg","lon":142.9,"p":282},{"id":7,"sign":"neg","lon":144.9,"p":234},{"id":7,"sign":"neg","lon":149.6,"p":196},{"id":7,"sign":"neg","lon":154.3,"p":205},{"id":7,"sign":"neg","lon":156.7,"p":263},{"id":7,"sign":"neg","lon":156.4,"p":339},{"id":7,"sign":"neg","lon":154.3,"p":378},{"id":7,"sign":"neg","lon":149.6,"p":368},{"id":7,"sign":"neg","lon":144.9,"p":339},{"id":7,"sign":"neg","lon":142.9,"p":301},{"id":7,"sign":"neg","lon":142.9,"p":282},
{"id":8,"sign":"neg","lon":144.6,"p":292},{"id":8,"sign":"neg","lon":146.3,"p":253},{"id":8,"sign":"neg","lon":150.3,"p":234},{"id":8,"sign":"neg","lon":152.9,"p":244},{"id":8,"sign":"neg","lon":154.3,"p":292},{"id":8,"sign":"neg","lon":152.9,"p":339},{"id":8,"sign":"neg","lon":149.6,"p":358},{"id":8,"sign":"neg","lon":146.3,"p":339},{"id":8,"sign":"neg","lon":144.6,"p":292},
{"id":9,"sign":"neg","lon":145.6,"p":301},{"id":9,"sign":"neg","lon":147.6,"p":272},{"id":9,"sign":"neg","lon":151.1,"p":272},{"id":9,"sign":"neg","lon":152.4,"p":311},{"id":9,"sign":"neg","lon":151.1,"p":339},{"id":9,"sign":"neg","lon":147.6,"p":339},{"id":9,"sign":"neg","lon":145.6,"p":301},
{"id":10,"sign":"neg","lon":147.3,"p":311},{"id":10,"sign":"neg","lon":149.0,"p":292},{"id":10,"sign":"neg","lon":151.1,"p":301},{"id":10,"sign":"neg","lon":150.3,"p":330},{"id":10,"sign":"neg","lon":148.3,"p":330},{"id":10,"sign":"neg","lon":147.3,"p":311},
{"id":11,"sign":"neg","lon":144.9,"p":119},{"id":11,"sign":"neg","lon":147.6,"p":115},{"id":11,"sign":"neg","lon":150.3,"p":113},{"id":11,"sign":"neg","lon":154.9,"p":125},{"id":11,"sign":"neg","lon":158.9,"p":144},{"id":11,"sign":"neg","lon":154.9,"p":167},{"id":11,"sign":"neg","lon":150.9,"p":157},{"id":11,"sign":"neg","lon":144.9,"p":167},{"id":11,"sign":"neg","lon":144.3,"p":148},{"id":11,"sign":"neg","lon":144.9,"p":119},
{"id":12,"sign":"neg","lon":147.0,"p":445},{"id":12,"sign":"neg","lon":148.3,"p":406},{"id":12,"sign":"neg","lon":152.9,"p":387},{"id":12,"sign":"neg","lon":159.0,"p":406},{"id":12,"sign":"neg","lon":160.1,"p":464},{"id":12,"sign":"neg","lon":161.4,"p":521},{"id":12,"sign":"neg","lon":159.7,"p":560},{"id":12,"sign":"neg","lon":157.7,"p":569},{"id":12,"sign":"neg","lon":155.0,"p":531},{"id":12,"sign":"neg","lon":151.1,"p":521},{"id":12,"sign":"neg","lon":147.0,"p":502},{"id":12,"sign":"neg","lon":147.0,"p":445},
{"id":13,"sign":"neg","lon":148.0,"p":464},{"id":13,"sign":"neg","lon":149.6,"p":426},{"id":13,"sign":"neg","lon":152.9,"p":412},{"id":13,"sign":"neg","lon":155.3,"p":435},{"id":13,"sign":"neg","lon":155.0,"p":473},{"id":13,"sign":"neg","lon":152.3,"p":493},{"id":13,"sign":"neg","lon":149.0,"p":493},{"id":13,"sign":"neg","lon":148.0,"p":464},
{"id":14,"sign":"neg","lon":149.6,"p":458},{"id":14,"sign":"neg","lon":151.0,"p":435},{"id":14,"sign":"neg","lon":152.9,"p":435},{"id":14,"sign":"neg","lon":153.7,"p":458},{"id":14,"sign":"neg","lon":152.3,"p":477},{"id":14,"sign":"neg","lon":150.3,"p":477},{"id":14,"sign":"neg","lon":149.6,"p":458}
],
"d1": [
{"id":1,"sign":"neg","lon":146.4,"p":20},{"id":1,"sign":"neg","lon":152.4,"p":14},{"id":1,"sign":"neg","lon":159.2,"p":12},{"id":1,"sign":"neg","lon":165.9,"p":14},{"id":1,"sign":"neg","lon":169.9,"p":29},{"id":1,"sign":"neg","lon":165.9,"p":44},{"id":1,"sign":"neg","lon":159.2,"p":52},{"id":1,"sign":"neg","lon":153.8,"p":48},{"id":1,"sign":"neg","lon":147.7,"p":33},{"id":1,"sign":"neg","lon":146.4,"p":20},
{"id":2,"sign":"pos","lon":153.8,"p":39},{"id":2,"sign":"pos","lon":157.2,"p":29},{"id":2,"sign":"pos","lon":160.5,"p":39},{"id":2,"sign":"pos","lon":159.2,"p":58},{"id":2,"sign":"pos","lon":155.1,"p":64},{"id":2,"sign":"pos","lon":153.8,"p":48},{"id":2,"sign":"pos","lon":153.8,"p":39},
{"id":3,"sign":"pos","lon":161.9,"p":39},{"id":3,"sign":"pos","lon":165.9,"p":37},{"id":3,"sign":"pos","lon":166.6,"p":52},{"id":3,"sign":"pos","lon":162.6,"p":58},{"id":3,"sign":"pos","lon":161.9,"p":44},{"id":3,"sign":"pos","lon":161.9,"p":39},
{"id":4,"sign":"neg","lon":155.1,"p":44},{"id":4,"sign":"neg","lon":157.8,"p":39},{"id":4,"sign":"neg","lon":159.2,"p":48},{"id":4,"sign":"neg","lon":156.5,"p":60},{"id":4,"sign":"neg","lon":155.1,"p":52},{"id":4,"sign":"neg","lon":155.1,"p":44},
{"id":5,"sign":"pos","lon":143.0,"p":478},{"id":5,"sign":"pos","lon":144.4,"p":469},{"id":5,"sign":"pos","lon":148.4,"p":507},{"id":5,"sign":"pos","lon":153.8,"p":564},{"id":5,"sign":"pos","lon":157.8,"p":612},{"id":5,"sign":"pos","lon":159.8,"p":660},{"id":5,"sign":"pos","lon":160.5,"p":708},{"id":5,"sign":"pos","lon":160.2,"p":765},{"id":5,"sign":"pos","lon":157.8,"p":736},{"id":5,"sign":"pos","lon":155.1,"p":679},{"id":5,"sign":"pos","lon":151.1,"p":621},{"id":5,"sign":"pos","lon":147.1,"p":564},{"id":5,"sign":"pos","lon":144.4,"p":526},{"id":5,"sign":"pos","lon":143.0,"p":497},{"id":5,"sign":"pos","lon":143.0,"p":478},
{"id":6,"sign":"pos","lon":144.4,"p":492},{"id":6,"sign":"pos","lon":147.7,"p":517},{"id":6,"sign":"pos","lon":152.4,"p":574},{"id":6,"sign":"pos","lon":156.5,"p":622},{"id":6,"sign":"pos","lon":158.8,"p":669},{"id":6,"sign":"pos","lon":159.2,"p":708},{"id":6,"sign":"pos","lon":157.1,"p":698},{"id":6,"sign":"pos","lon":153.8,"p":650},{"id":6,"sign":"pos","lon":149.7,"p":593},{"id":6,"sign":"pos","lon":145.7,"p":536},{"id":6,"sign":"pos","lon":144.4,"p":507},{"id":6,"sign":"pos","lon":144.4,"p":492},
{"id":7,"sign":"pos","lon":147.7,"p":536},{"id":7,"sign":"pos","lon":151.1,"p":560},{"id":7,"sign":"pos","lon":155.1,"p":612},{"id":7,"sign":"pos","lon":157.8,"p":664},{"id":7,"sign":"pos","lon":158.2,"p":688},{"id":7,"sign":"pos","lon":156.5,"p":683},{"id":7,"sign":"pos","lon":153.1,"p":631},{"id":7,"sign":"pos","lon":149.7,"p":583},{"id":7,"sign":"pos","lon":147.7,"p":555},{"id":7,"sign":"pos","lon":147.7,"p":536},
{"id":8,"sign":"pos","lon":149.1,"p":555},{"id":8,"sign":"pos","lon":152.4,"p":583},{"id":8,"sign":"pos","lon":155.8,"p":631},{"id":8,"sign":"pos","lon":157.1,"p":664},{"id":8,"sign":"pos","lon":155.5,"p":664},{"id":8,"sign":"pos","lon":152.4,"p":617},{"id":8,"sign":"pos","lon":149.7,"p":574},{"id":8,"sign":"pos","lon":149.1,"p":555},
{"id":9,"sign":"pos","lon":158.5,"p":507},{"id":9,"sign":"pos","lon":159.2,"p":497},{"id":9,"sign":"pos","lon":165.9,"p":536},{"id":9,"sign":"pos","lon":167.6,"p":568},{"id":9,"sign":"pos","lon":166.9,"p":583},{"id":9,"sign":"pos","lon":163.2,"p":564},{"id":9,"sign":"pos","lon":159.2,"p":526},{"id":9,"sign":"pos","lon":158.5,"p":507},
{"id":10,"sign":"neg","lon":143.4,"p":555},{"id":10,"sign":"neg","lon":145.7,"p":602},{"id":10,"sign":"neg","lon":149.7,"p":641},{"id":10,"sign":"neg","lon":152.4,"p":679},{"id":10,"sign":"neg","lon":155.1,"p":755},{"id":10,"sign":"neg","lon":154.5,"p":765},{"id":10,"sign":"neg","lon":151.1,"p":717},{"id":10,"sign":"neg","lon":147.1,"p":660},{"id":10,"sign":"neg","lon":143.7,"p":583},{"id":10,"sign":"neg","lon":143.4,"p":555},
{"id":11,"sign":"neg","lon":151.8,"p":516},{"id":11,"sign":"neg","lon":153.8,"p":507},{"id":11,"sign":"neg","lon":156.5,"p":536},{"id":11,"sign":"neg","lon":159.8,"p":564},{"id":11,"sign":"neg","lon":162.5,"p":612},{"id":11,"sign":"neg","lon":165.2,"p":641},{"id":11,"sign":"neg","lon":165.9,"p":664},{"id":11,"sign":"neg","lon":164.5,"p":669},{"id":11,"sign":"neg","lon":161.9,"p":641},{"id":11,"sign":"neg","lon":158.5,"p":612},{"id":11,"sign":"neg","lon":155.1,"p":574},{"id":11,"sign":"neg","lon":152.4,"p":545},{"id":11,"sign":"neg","lon":151.8,"p":516},
{"id":12,"sign":"neg","lon":155.1,"p":555},{"id":12,"sign":"neg","lon":157.1,"p":549},{"id":12,"sign":"neg","lon":159.8,"p":583},{"id":12,"sign":"neg","lon":161.9,"p":621},{"id":12,"sign":"neg","lon":159.8,"p":625},{"id":12,"sign":"neg","lon":157.1,"p":593},{"id":12,"sign":"neg","lon":155.1,"p":574},{"id":12,"sign":"neg","lon":155.1,"p":555}
],
"d2": [
{"id":1,"sign":"pos","lon":182.8,"p":328},{"id":1,"sign":"pos","lon":184.8,"p":309},{"id":1,"sign":"pos","lon":186.5,"p":318},{"id":1,"sign":"pos","lon":186.9,"p":395},{"id":1,"sign":"pos","lon":187.5,"p":461},{"id":1,"sign":"pos","lon":184.8,"p":471},{"id":1,"sign":"pos","lon":182.1,"p":480},{"id":1,"sign":"pos","lon":178.8,"p":524},{"id":1,"sign":"pos","lon":179.8,"p":490},{"id":1,"sign":"pos","lon":181.8,"p":414},{"id":1,"sign":"pos","lon":182.8,"p":328},
{"id":2,"sign":"pos","lon":183.4,"p":347},{"id":2,"sign":"pos","lon":185.2,"p":328},{"id":2,"sign":"pos","lon":186.3,"p":337},{"id":2,"sign":"pos","lon":186.5,"p":423},{"id":2,"sign":"pos","lon":184.8,"p":442},{"id":2,"sign":"pos","lon":182.8,"p":433},{"id":2,"sign":"pos","lon":183.4,"p":347},
{"id":3,"sign":"pos","lon":184.2,"p":366},{"id":3,"sign":"pos","lon":185.5,"p":356},{"id":3,"sign":"pos","lon":186.1,"p":395},{"id":3,"sign":"pos","lon":185.5,"p":423},{"id":3,"sign":"pos","lon":184.2,"p":414},{"id":3,"sign":"pos","lon":184.2,"p":366},
{"id":4,"sign":"pos","lon":184.7,"p":385},{"id":4,"sign":"pos","lon":185.5,"p":375},{"id":4,"sign":"pos","lon":185.7,"p":404},{"id":4,"sign":"pos","lon":184.9,"p":410},{"id":4,"sign":"pos","lon":184.7,"p":385},
{"id":5,"sign":"pos","lon":187.9,"p":337},{"id":5,"sign":"pos","lon":189.6,"p":309},{"id":5,"sign":"pos","lon":192.3,"p":305},{"id":5,"sign":"pos","lon":194.3,"p":328},{"id":5,"sign":"pos","lon":195.0,"p":366},{"id":5,"sign":"pos","lon":194.6,"p":404},{"id":5,"sign":"pos","lon":192.9,"p":423},{"id":5,"sign":"pos","lon":190.2,"p":423},{"id":5,"sign":"pos","lon":188.6,"p":404},{"id":5,"sign":"pos","lon":187.9,"p":366},{"id":5,"sign":"pos","lon":187.9,"p":337},
{"id":6,"sign":"pos","lon":188.6,"p":347},{"id":6,"sign":"pos","lon":190.2,"p":322},{"id":6,"sign":"pos","lon":192.6,"p":322},{"id":6,"sign":"pos","lon":194.0,"p":347},{"id":6,"sign":"pos","lon":194.2,"p":379},{"id":6,"sign":"pos","lon":192.9,"p":410},{"id":6,"sign":"pos","lon":190.2,"p":410},{"id":6,"sign":"pos","lon":188.9,"p":385},{"id":6,"sign":"pos","lon":188.6,"p":347},
{"id":7,"sign":"pos","lon":189.2,"p":353},{"id":7,"sign":"pos","lon":190.6,"p":334},{"id":7,"sign":"pos","lon":192.6,"p":337},{"id":7,"sign":"pos","lon":193.5,"p":360},{"id":7,"sign":"pos","lon":193.3,"p":391},{"id":7,"sign":"pos","lon":191.6,"p":400},{"id":7,"sign":"pos","lon":189.9,"p":391},{"id":7,"sign":"pos","lon":189.2,"p":366},{"id":7,"sign":"pos","lon":189.2,"p":353},
{"id":8,"sign":"pos","lon":189.9,"p":360},{"id":8,"sign":"pos","lon":191.3,"p":347},{"id":8,"sign":"pos","lon":192.6,"p":356},{"id":8,"sign":"pos","lon":192.6,"p":385},{"id":8,"sign":"pos","lon":191.3,"p":391},{"id":8,"sign":"pos","lon":190.0,"p":379},{"id":8,"sign":"pos","lon":189.9,"p":360},
{"id":9,"sign":"pos","lon":190.6,"p":366},{"id":9,"sign":"pos","lon":191.6,"p":356},{"id":9,"sign":"pos","lon":192.1,"p":372},{"id":9,"sign":"pos","lon":191.5,"p":381},{"id":9,"sign":"pos","lon":190.6,"p":366},
{"id":10,"sign":"pos","lon":195.0,"p":299},{"id":10,"sign":"pos","lon":195.3,"p":280},{"id":10,"sign":"pos","lon":198.4,"p":271},{"id":10,"sign":"pos","lon":201.1,"p":309},{"id":10,"sign":"pos","lon":202.1,"p":366},{"id":10,"sign":"pos","lon":198.7,"p":442},{"id":10,"sign":"pos","lon":195.3,"p":423},{"id":10,"sign":"pos","lon":195.0,"p":299},
{"id":11,"sign":"pos","lon":195.9,"p":309},{"id":11,"sign":"pos","lon":198.0,"p":290},{"id":11,"sign":"pos","lon":200.6,"p":318},{"id":11,"sign":"pos","lon":201.1,"p":366},{"id":11,"sign":"pos","lon":198.7,"p":414},{"id":11,"sign":"pos","lon":196.2,"p":404},{"id":11,"sign":"pos","lon":195.9,"p":309},
{"id":12,"sign":"pos","lon":196.3,"p":318},{"id":12,"sign":"pos","lon":198.0,"p":305},{"id":12,"sign":"pos","lon":199.7,"p":328},{"id":12,"sign":"pos","lon":200.0,"p":366},{"id":12,"sign":"pos","lon":198.4,"p":395},{"id":12,"sign":"pos","lon":196.5,"p":385},{"id":12,"sign":"pos","lon":196.3,"p":318},
{"id":13,"sign":"pos","lon":197.1,"p":337},{"id":13,"sign":"pos","lon":198.4,"p":325},{"id":13,"sign":"pos","lon":199.2,"p":347},{"id":13,"sign":"pos","lon":199.0,"p":372},{"id":13,"sign":"pos","lon":197.7,"p":375},{"id":13,"sign":"pos","lon":197.1,"p":337},
{"id":14,"sign":"pos","lon":197.5,"p":347},{"id":14,"sign":"pos","lon":198.7,"p":345},{"id":14,"sign":"pos","lon":198.7,"p":364},{"id":14,"sign":"pos","lon":197.7,"p":364},{"id":14,"sign":"pos","lon":197.5,"p":347},
{"id":15,"sign":"neg","lon":202.4,"p":328},{"id":15,"sign":"neg","lon":204.4,"p":309},{"id":15,"sign":"neg","lon":207.8,"p":328},{"id":15,"sign":"neg","lon":209.5,"p":375},{"id":15,"sign":"neg","lon":208.5,"p":414},{"id":15,"sign":"neg","lon":205.8,"p":404},{"id":15,"sign":"neg","lon":203.1,"p":366},{"id":15,"sign":"neg","lon":202.4,"p":328},
{"id":16,"sign":"neg","lon":203.4,"p":337},{"id":16,"sign":"neg","lon":205.1,"p":324},{"id":16,"sign":"neg","lon":207.1,"p":347},{"id":16,"sign":"neg","lon":207.8,"p":375},{"id":16,"sign":"neg","lon":206.1,"p":385},{"id":16,"sign":"neg","lon":204.1,"p":366},{"id":16,"sign":"neg","lon":203.4,"p":337},
{"id":17,"sign":"pos","lon":185.4,"p":528},{"id":17,"sign":"pos","lon":187.5,"p":480},{"id":17,"sign":"pos","lon":191.3,"p":467},{"id":17,"sign":"pos","lon":190.6,"p":509},{"id":17,"sign":"pos","lon":188.6,"p":556},{"id":17,"sign":"pos","lon":185.9,"p":551},{"id":17,"sign":"pos","lon":185.4,"p":528},
{"id":18,"sign":"pos","lon":186.5,"p":528},{"id":18,"sign":"pos","lon":187.9,"p":505},{"id":18,"sign":"pos","lon":188.9,"p":513},{"id":18,"sign":"pos","lon":188.2,"p":537},{"id":18,"sign":"pos","lon":186.9,"p":543},{"id":18,"sign":"pos","lon":186.5,"p":528},
{"id":19,"sign":"pos","lon":182.5,"p":614},{"id":19,"sign":"pos","lon":184.2,"p":604},{"id":19,"sign":"pos","lon":187.9,"p":623},{"id":19,"sign":"pos","lon":188.6,"p":646},{"id":19,"sign":"pos","lon":187.5,"p":671},{"id":19,"sign":"pos","lon":185.4,"p":661},{"id":19,"sign":"pos","lon":182.8,"p":633},{"id":19,"sign":"pos","lon":182.5,"p":614},
{"id":20,"sign":"pos","lon":196.3,"p":195},{"id":20,"sign":"pos","lon":198.4,"p":204},{"id":20,"sign":"pos","lon":198.7,"p":218},{"id":20,"sign":"pos","lon":196.7,"p":220},{"id":20,"sign":"pos","lon":196.3,"p":195},
{"id":21,"sign":"neg","lon":191.3,"p":528},{"id":21,"sign":"neg","lon":193.6,"p":509},{"id":21,"sign":"neg","lon":196.0,"p":513},{"id":21,"sign":"neg","lon":196.3,"p":556},{"id":21,"sign":"neg","lon":195.0,"p":570},{"id":21,"sign":"neg","lon":192.9,"p":575},{"id":21,"sign":"neg","lon":191.6,"p":547},{"id":21,"sign":"neg","lon":191.3,"p":528},
{"id":22,"sign":"neg","lon":173.7,"p":147},{"id":22,"sign":"neg","lon":175.4,"p":128},{"id":22,"sign":"neg","lon":179.4,"p":105},{"id":22,"sign":"neg","lon":182.1,"p":109},{"id":22,"sign":"neg","lon":186.2,"p":138},{"id":22,"sign":"neg","lon":188.9,"p":166},{"id":22,"sign":"neg","lon":188.2,"p":204},{"id":22,"sign":"neg","lon":184.8,"p":242},{"id":22,"sign":"neg","lon":181.5,"p":204},{"id":22,"sign":"neg","lon":178.1,"p":166},{"id":22,"sign":"neg","lon":173.7,"p":147},
{"id":23,"sign":"neg","lon":177.8,"p":166},{"id":23,"sign":"neg","lon":179.9,"p":138},{"id":23,"sign":"neg","lon":183.5,"p":143},{"id":23,"sign":"neg","lon":186.9,"p":170},{"id":23,"sign":"neg","lon":186.2,"p":204},{"id":23,"sign":"neg","lon":183.5,"p":214},{"id":23,"sign":"neg","lon":180.2,"p":195},{"id":23,"sign":"neg","lon":177.8,"p":166},
{"id":24,"sign":"neg","lon":179.9,"p":166},{"id":24,"sign":"neg","lon":182.1,"p":157},{"id":24,"sign":"neg","lon":184.9,"p":170},{"id":24,"sign":"neg","lon":184.2,"p":189},{"id":24,"sign":"neg","lon":181.5,"p":185},{"id":24,"sign":"neg","lon":179.9,"p":166},
{"id":25,"sign":"pos","lon":180.2,"p":138},{"id":25,"sign":"pos","lon":182.1,"p":132},{"id":25,"sign":"pos","lon":184.9,"p":157},{"id":25,"sign":"pos","lon":186.2,"p":185},{"id":25,"sign":"pos","lon":184.2,"p":180},{"id":25,"sign":"pos","lon":181.5,"p":157},{"id":25,"sign":"pos","lon":180.2,"p":138},
{"id":26,"sign":"neg","lon":189.2,"p":147},{"id":26,"sign":"neg","lon":191.6,"p":138},{"id":26,"sign":"neg","lon":193.6,"p":185},{"id":26,"sign":"neg","lon":192.9,"p":214},{"id":26,"sign":"neg","lon":190.2,"p":204},{"id":26,"sign":"neg","lon":189.2,"p":147},
{"id":27,"sign":"neg","lon":173.7,"p":509},{"id":27,"sign":"neg","lon":175.4,"p":499},{"id":27,"sign":"neg","lon":175.1,"p":524},{"id":27,"sign":"neg","lon":173.7,"p":524}
],
"none": []
},
"vconcat": [
{
"title": {"text": "(a) Streamfunction D63-1", "font": "Liberation Serif", "fontSize": 24, "anchor": "middle", "frame": "bounds", "offset": 20},
"spacing": 98,
"hconcat": [
{"width": 446, "height": 173, "title": {"text": "Initial Time"}, "data": {"name": "a1"},
 "mark": {"type": "line", "color": "black", "strokeWidth": 1.6, "clip": true},
 "encoding": {
  "x": {"field": "lon", "type": "quantitative", "scale": {"domain": [80, 150], "nice": false, "zero": false}, "axis": {"title": "Longitude", "values": [80,90,100,110,120,130,140,150], "labelExpr": "datum.value % 20 !== 0 ? '' : datum.value < 180 ? datum.value + '°E' : datum.value == 180 ? '180°' : (360 - datum.value) + '°W'", "tickSize": {"condition": {"test": "datum.value % 20 === 0", "value": 14}, "value": 8}}},
  "y": {"field": "p", "type": "quantitative", "scale": {"domain": [10, 1000], "reverse": true, "nice": false, "zero": false}, "axis": {"title": "Pressure", "format": "d", "values": [10,200,400,600,800,1000]}},
  "detail": {"field": "id", "type": "nominal"},
  "strokeDash": {"field": "sign", "type": "nominal", "scale": {"domain": ["pos","neg"], "range": [[1,0],[9,6]]}, "legend": null},
  "order": {"value": null}
 }},
{"width": 446, "height": 173, "title": {"text": "Final Time"}, "data": {"name": "a2"},
 "mark": {"type": "line", "color": "black", "strokeWidth": 1.6, "clip": true},
 "encoding": {
  "x": {"field": "lon", "type": "quantitative", "scale": {"domain": [120, 210], "nice": false, "zero": false}, "axis": {"title": "Longitude", "values": [120,130,140,150,160,170,180,190,200,210], "labelExpr": "datum.value % 20 !== 0 ? '' : datum.value < 180 ? datum.value + '°E' : datum.value == 180 ? '180°' : (360 - datum.value) + '°W'", "tickSize": {"condition": {"test": "datum.value % 20 === 0", "value": 14}, "value": 8}}},
  "y": {"field": "p", "type": "quantitative", "scale": {"domain": [10, 1000], "reverse": true, "nice": false, "zero": false}, "axis": {"title": "Pressure", "format": "d", "values": [10,200,400,600,800,1000]}},
  "detail": {"field": "id", "type": "nominal"},
  "strokeDash": {"field": "sign", "type": "nominal", "scale": {"domain": ["pos","neg"], "range": [[1,0],[9,6]]}, "legend": null},
  "order": {"value": null}
 }}
]
},
{
"title": {"text": "(b) Streamfunction F63-1", "font": "Liberation Serif", "fontSize": 24, "anchor": "middle", "frame": "bounds", "offset": 20},
"spacing": 98,
"hconcat": [
{"width": 446, "height": 173, "title": {"text": "Initial Time"}, "data": {"name": "b1"},
 "mark": {"type": "line", "color": "black", "strokeWidth": 1.6, "clip": true},
 "encoding": {
  "x": {"field": "lon", "type": "quantitative", "scale": {"domain": [120, 210], "nice": false, "zero": false}, "axis": {"title": "Longitude", "values": [120,130,140,150,160,170,180,190,200,210], "labelExpr": "datum.value % 20 !== 0 ? '' : datum.value < 180 ? datum.value + '°E' : datum.value == 180 ? '180°' : (360 - datum.value) + '°W'", "tickSize": {"condition": {"test": "datum.value % 20 === 0", "value": 14}, "value": 8}}},
  "y": {"field": "p", "type": "quantitative", "scale": {"domain": [10, 1000], "reverse": true, "nice": false, "zero": false}, "axis": {"title": "Pressure", "format": "d", "values": [10,200,400,600,800,1000]}},
  "detail": {"field": "id", "type": "nominal"},
  "strokeDash": {"field": "sign", "type": "nominal", "scale": {"domain": ["pos","neg"], "range": [[1,0],[9,6]]}, "legend": null},
  "order": {"value": null}
 }},
{"width": 446, "height": 173, "title": {"text": "Final Time"}, "data": {"name": "b2"},
 "mark": {"type": "line", "color": "black", "strokeWidth": 1.6, "clip": true},
 "encoding": {
  "x": {"field": "lon", "type": "quantitative", "scale": {"domain": [160, 250], "nice": false, "zero": false}, "axis": {"title": "Longitude", "values": [160,170,180,190,200,210,220,230,240,250], "labelExpr": "datum.value % 20 !== 0 ? '' : datum.value < 180 ? datum.value + '°E' : datum.value == 180 ? '180°' : (360 - datum.value) + '°W'", "tickSize": {"condition": {"test": "datum.value % 20 === 0", "value": 14}, "value": 8}}},
  "y": {"field": "p", "type": "quantitative", "scale": {"domain": [10, 1000], "reverse": true, "nice": false, "zero": false}, "axis": {"title": "Pressure", "format": "d", "values": [10,200,400,600,800,1000]}},
  "detail": {"field": "id", "type": "nominal"},
  "strokeDash": {"field": "sign", "type": "nominal", "scale": {"domain": ["pos","neg"], "range": [[1,0],[9,6]]}, "legend": null},
  "order": {"value": null}
 }}
]
},
{
"title": {"text": "(c) PV D63-1", "font": "Liberation Serif", "fontSize": 24, "anchor": "middle", "frame": "bounds", "offset": 20},
"spacing": 98,
"hconcat": [
{"width": 446, "height": 173, "title": {"text": "Initial Time"}, "data": {"name": "c1"},
 "mark": {"type": "line", "color": "black", "strokeWidth": 1.6, "clip": true},
 "encoding": {
  "x": {"field": "lon", "type": "quantitative", "scale": {"domain": [80, 150], "nice": false, "zero": false}, "axis": {"title": "Longitude", "values": [80,90,100,110,120,130,140,150], "labelExpr": "datum.value % 20 !== 0 ? '' : datum.value < 180 ? datum.value + '°E' : datum.value == 180 ? '180°' : (360 - datum.value) + '°W'", "tickSize": {"condition": {"test": "datum.value % 20 === 0", "value": 14}, "value": 8}}},
  "y": {"field": "p", "type": "quantitative", "scale": {"domain": [10, 1000], "reverse": true, "nice": false, "zero": false}, "axis": {"title": "Pressure", "format": "d", "values": [10,200,400,600,800,1000]}},
  "detail": {"field": "id", "type": "nominal"},
  "strokeDash": {"field": "sign", "type": "nominal", "scale": {"domain": ["pos","neg"], "range": [[1,0],[9,6]]}, "legend": null},
  "order": {"value": null}
 }},
{"width": 446, "height": 173, "title": {"text": "Final Time"}, "data": {"name": "c2"},
 "mark": {"type": "line", "color": "black", "strokeWidth": 1.6, "clip": true},
 "encoding": {
  "x": {"field": "lon", "type": "quantitative", "scale": {"domain": [120, 210], "nice": false, "zero": false}, "axis": {"title": "Longitude", "values": [120,130,140,150,160,170,180,190,200,210], "labelExpr": "datum.value % 20 !== 0 ? '' : datum.value < 180 ? datum.value + '°E' : datum.value == 180 ? '180°' : (360 - datum.value) + '°W'", "tickSize": {"condition": {"test": "datum.value % 20 === 0", "value": 14}, "value": 8}}},
  "y": {"field": "p", "type": "quantitative", "scale": {"domain": [10, 1000], "reverse": true, "nice": false, "zero": false}, "axis": {"title": "Pressure", "format": "d", "values": [10,200,400,600,800,1000]}},
  "detail": {"field": "id", "type": "nominal"},
  "strokeDash": {"field": "sign", "type": "nominal", "scale": {"domain": ["pos","neg"], "range": [[1,0],[9,6]]}, "legend": null},
  "order": {"value": null}
 }}
]
},
{
"title": {"text": "(d) PV F63-1", "font": "Liberation Serif", "fontSize": 24, "anchor": "middle", "frame": "bounds", "offset": 19},
"spacing": 98,
"hconcat": [
{"spacing": 0, "vconcat": [
{"width": 446, "height": 12, "data": {"name": "none"}, "mark": {"type": "point", "opacity": 0}, "encoding": {}, "view": {"stroke": null}},
{"width": 446, "height": 173, "title": {"text": "Initial Time"}, "data": {"name": "d1"},
 "mark": {"type": "line", "color": "black", "strokeWidth": 1.6, "clip": true},
 "encoding": {
  "x": {"field": "lon", "type": "quantitative", "scale": {"domain": [120, 210], "nice": false, "zero": false}, "axis": {"title": "Longitude", "values": [120,130,140,150,160,170,180,190,200,210], "labelExpr": "datum.value % 20 !== 0 ? '' : datum.value < 180 ? datum.value + '°E' : datum.value == 180 ? '180°' : (360 - datum.value) + '°W'", "tickSize": {"condition": {"test": "datum.value % 20 === 0", "value": 14}, "value": 8}}},
  "y": {"field": "p", "type": "quantitative", "scale": {"domain": [10, 1000], "reverse": true, "nice": false, "zero": false}, "axis": {"title": "Pressure", "format": "d", "values": [10,200,400,600,800,1000]}},
  "detail": {"field": "id", "type": "nominal"},
  "strokeDash": {"field": "sign", "type": "nominal", "scale": {"domain": ["pos","neg"], "range": [[1,0],[9,6]]}, "legend": null},
  "order": {"value": null}
 }}
]},
{"spacing": 0, "vconcat": [
{"width": 446, "height": 1, "data": {"name": "none"}, "mark": {"type": "point", "opacity": 0}, "encoding": {}, "view": {"stroke": null}},
{"width": 446, "height": 173, "title": {"text": "Final Time"}, "data": {"name": "d2"},
 "mark": {"type": "line", "color": "black", "strokeWidth": 1.6, "clip": true},
 "encoding": {
  "x": {"field": "lon", "type": "quantitative", "scale": {"domain": [160, 250], "nice": false, "zero": false}, "axis": {"title": "Longitude", "values": [160,170,180,190,200,210,220,230,240,250], "labelExpr": "datum.value % 20 !== 0 ? '' : datum.value < 180 ? datum.value + '°E' : datum.value == 180 ? '180°' : (360 - datum.value) + '°W'", "tickSize": {"condition": {"test": "datum.value % 20 === 0", "value": 14}, "value": 8}}},
  "y": {"field": "p", "type": "quantitative", "scale": {"domain": [10, 1000], "reverse": true, "nice": false, "zero": false}, "axis": {"title": "Pressure", "format": "d", "values": [10,200,400,600,800,1000]}},
  "detail": {"field": "id", "type": "nominal"},
  "strokeDash": {"field": "sign", "type": "nominal", "scale": {"domain": ["pos","neg"], "range": [[1,0],[9,6]]}, "legend": null},
  "order": {"value": null}
 }}
]}
]
}
],
"config": {
 "view": {"stroke": "black", "strokeWidth": 1.5},
 "axis": {"grid": false, "domainColor": "black", "domainWidth": 1.5, "tickColor": "black", "tickWidth": 1.5, "labelColor": "black", "titleColor": "black", "labelFont": "Liberation Sans", "titleFont": "Liberation Sans", "titleFontWeight": "normal", "labelFlush": false, "labelOverlap": false},
 "axisX": {"labelFontSize": 19, "titleFontSize": 33, "labelPadding": 1, "titlePadding": 7},
 "axisY": {"labelFontSize": 24, "titleFontSize": 32, "tickSize": 9, "labelPadding": 5, "titlePadding": 2, "titleBaseline": "alphabetic"},
 "title": {"font": "Liberation Sans", "fontSize": 31, "fontWeight": "normal", "color": "black", "frame": "group", "offset": 6}
}
}
